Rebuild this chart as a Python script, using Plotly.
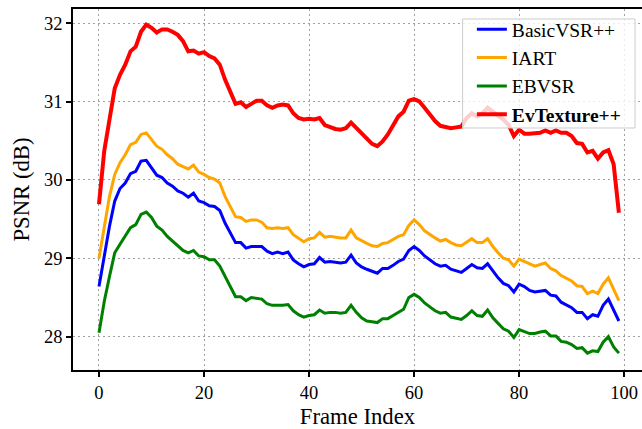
import plotly.graph_objects as go

frames = list(range(100))

evtexture = [29.69, 30.37, 30.77, 31.17, 31.34, 31.47, 31.64, 31.70, 31.89, 31.98,
             31.94, 31.88, 31.92, 31.92, 31.89, 31.85, 31.77, 31.64, 31.65, 31.61,
             31.63, 31.58, 31.55, 31.47, 31.28, 31.13, 30.97, 30.99, 30.93, 30.97,
             31.01, 31.01, 30.95, 30.92, 30.95, 30.96, 30.95, 30.85, 30.79, 30.77,
             30.78, 30.77, 30.79, 30.70, 30.67, 30.65, 30.64, 30.66, 30.73, 30.66,
             30.60, 30.52, 30.46, 30.43, 30.49, 30.58, 30.69, 30.81, 30.87, 31.01,
             31.03, 31.00, 30.92, 30.83, 30.75, 30.69, 30.67, 30.66, 30.67, 30.68,
             30.79, 30.85, 30.81, 30.85, 30.92, 30.87, 30.83, 30.77, 30.70, 30.56,
             30.64, 30.59, 30.59, 30.59, 30.60, 30.63, 30.60, 30.63, 30.60, 30.60,
             30.56, 30.47, 30.46, 30.35, 30.37, 30.27, 30.35, 30.38, 30.20, 29.58]

iart = [29.00, 29.41, 29.79, 30.07, 30.22, 30.32, 30.45, 30.48, 30.58, 30.60,
        30.51, 30.43, 30.39, 30.32, 30.27, 30.20, 30.17, 30.14, 30.19, 30.10,
        30.07, 30.03, 30.01, 29.96, 29.79, 29.66, 29.53, 29.52, 29.47, 29.49,
        29.49, 29.46, 29.39, 29.38, 29.39, 29.38, 29.39, 29.30, 29.25, 29.21,
        29.25, 29.26, 29.33, 29.27, 29.28, 29.27, 29.26, 29.26, 29.36, 29.26,
        29.22, 29.19, 29.16, 29.15, 29.19, 29.20, 29.24, 29.28, 29.30, 29.42,
        29.49, 29.43, 29.35, 29.30, 29.26, 29.22, 29.24, 29.20, 29.17, 29.16,
        29.21, 29.25, 29.20, 29.20, 29.25, 29.15, 29.07, 29.00, 28.98, 28.90,
        28.99, 28.96, 28.92, 28.90, 28.92, 28.94, 28.87, 28.84, 28.78, 28.75,
        28.71, 28.65, 28.64, 28.55, 28.58, 28.55, 28.67, 28.75, 28.61, 28.46]

basicvsr = [28.64, 29.03, 29.41, 29.73, 29.89, 29.96, 30.08, 30.11, 30.24, 30.25,
            30.15, 30.06, 30.03, 29.96, 29.92, 29.86, 29.83, 29.78, 29.83, 29.73,
            29.71, 29.67, 29.66, 29.61, 29.45, 29.32, 29.20, 29.20, 29.13, 29.15,
            29.15, 29.15, 29.09, 29.06, 29.08, 29.06, 29.08, 28.98, 28.93, 28.89,
            28.92, 28.93, 29.01, 28.95, 28.96, 28.95, 28.94, 28.95, 29.04, 28.94,
            28.89, 28.86, 28.84, 28.81, 28.87, 28.87, 28.91, 28.96, 28.99, 29.10,
            29.15, 29.10, 29.03, 28.98, 28.93, 28.90, 28.91, 28.86, 28.84, 28.82,
            28.87, 28.92, 28.88, 28.87, 28.93, 28.84, 28.75, 28.68, 28.65, 28.57,
            28.67, 28.64, 28.59, 28.57, 28.58, 28.59, 28.53, 28.52, 28.44, 28.41,
            28.37, 28.31, 28.31, 28.23, 28.28, 28.26, 28.40, 28.48, 28.35, 28.20]

ebvsr = [28.05, 28.45, 28.77, 29.07, 29.18, 29.28, 29.39, 29.43, 29.56, 29.59,
         29.52, 29.41, 29.36, 29.28, 29.22, 29.15, 29.10, 29.07, 29.10, 29.03,
         29.02, 28.98, 28.98, 28.90, 28.77, 28.64, 28.51, 28.51, 28.46, 28.50,
         28.49, 28.48, 28.42, 28.40, 28.40, 28.40, 28.41, 28.33, 28.28, 28.25,
         28.27, 28.28, 28.34, 28.30, 28.31, 28.31, 28.30, 28.31, 28.40, 28.31,
         28.24, 28.20, 28.19, 28.18, 28.23, 28.23, 28.27, 28.31, 28.35, 28.50,
         28.54, 28.50, 28.43, 28.38, 28.33, 28.30, 28.31, 28.25, 28.23, 28.22,
         28.27, 28.33, 28.27, 28.26, 28.34, 28.24, 28.17, 28.10, 28.07, 27.99,
         28.09, 28.06, 28.04, 28.04, 28.06, 28.07, 28.01, 28.01, 27.94, 27.93,
         27.90, 27.85, 27.86, 27.79, 27.82, 27.81, 27.93, 28.00, 27.87, 27.79]

x_ticks = [0, 20, 40, 60, 80, 100]
y_ticks = [28, 29, 30, 31, 32]

series = [
    ("BasicVSR++", basicvsr, "#0000ff", 3),
    ("IART", iart, "#ffa500", 3),
    ("EBVSR", ebvsr, "#008000", 3),
    ("<b>EvTexture++</b>", evtexture, "#ff0000", 4),
]

FONT = "Liberation Serif, Times New Roman, serif"

fig = go.Figure()
for name, vals, color, w in series:
    fig.add_trace(go.Scatter(x=frames, y=vals, mode="lines", name=name,
                             line=dict(color=color, width=w)))

axis_common = dict(
    showline=True, linecolor="black", linewidth=1.5,
    ticks="outside", ticklen=5, tickwidth=1.5, tickcolor="black",
    showgrid=True, gridcolor="#a0a0a0", gridwidth=1.3, griddash="2px,3px",
    zeroline=False,
    tickfont=dict(family=FONT, size=18.5, color="black"),
)

# legend frame (semi-transparent white box like matplotlib's)
fig.add_shape(type="rect", xref="paper", yref="paper",
              x0=0.6847, x1=0.9878, y0=0.6704, y1=0.9723,
              fillcolor="rgba(255,255,255,0.8)", line=dict(color="#cccccc", width=1),
              layer="above")

fig.update_layout(
    width=642, height=429,
    margin=dict(l=73, r=0, t=9, b=59),
    paper_bgcolor="white", plot_bgcolor="white",
    font=dict(family=FONT, color="black"),
    xaxis=dict(range=[-4.95, 103.4], tickvals=x_ticks, mirror=True,
               title=dict(text="Frame Index", font=dict(family=FONT, size=22.7), standoff=9),
               **axis_common),
    yaxis=dict(range=[27.575, 32.18], tickvals=y_ticks,
               title=dict(text="PSNR (dB)", font=dict(family=FONT, size=22.7), standoff=8),
               **axis_common),
    legend=dict(x=0.701, y=0.9972, xanchor="left", yanchor="top",
                bgcolor="rgba(0,0,0,0)", borderwidth=0,
                font=dict(family=FONT, size=19.5, color="black")),
    showlegend=True,
)

fig.write_html("out.html")
